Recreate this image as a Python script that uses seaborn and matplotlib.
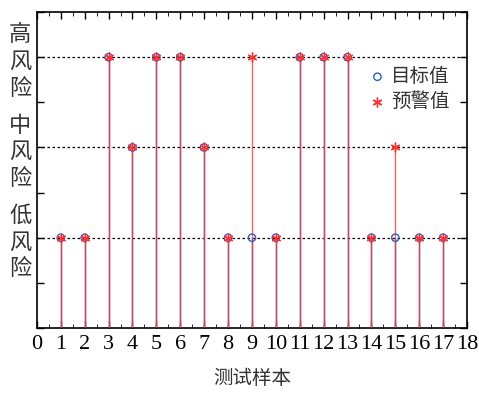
import numpy as np
import pandas as pd
import seaborn as sns
import matplotlib.pyplot as plt
from matplotlib.ticker import MultipleLocator

# Risk levels: 2 = low, 4 = medium, 6 = high
samples = list(range(1, 18))
target = [2, 2, 6, 4, 6, 6, 4, 2, 2, 2, 6, 6, 6, 2, 2, 2, 2]
warning = [2, 2, 6, 4, 6, 6, 4, 2, 6, 2, 6, 6, 6, 2, 4, 2, 2]
level_ticks = [2, 4, 6]
level_labels = ['低\n风\n险', '中\n风\n险', '高\n风\n险']
series_names = ['目标值', '预警值']

df = pd.concat([
    pd.DataFrame({'样本': samples, '风险': target, '类型': series_names[0]}),
    pd.DataFrame({'样本': samples, '风险': warning, '类型': series_names[1]}),
])

sns.set_style('ticks')
plt.rcParams['font.family'] = ['Liberation Serif', 'Noto Sans CJK SC']
plt.rcParams['text.color'] = 'black'
plt.rcParams['xtick.color'] = 'black'
plt.rcParams['ytick.color'] = 'black'
plt.rcParams['axes.edgecolor'] = 'black'

fig = plt.figure(figsize=(4.79, 3.94), dpi=100)
ax = fig.add_axes([0.077, 0.1675, 0.898, 0.802])

# dotted reference lines at each risk level
for lv in level_ticks:
    ax.axhline(lv, color='black', linestyle=(0, (2, 2)), linewidth=0.9, zorder=1)

# stems
ax.vlines(samples, 0, target, color='#4060b0', linewidth=1.0, zorder=2)
ax.vlines(samples, 0, warning, color='#ff3b3b', linewidth=1.0, alpha=0.8, zorder=3)

sns.scatterplot(data=df[df['类型'] == series_names[0]], x='样本', y='风险',
                marker='o', s=28, facecolor='none', edgecolor='#2a5fc0',
                linewidth=1.0, label=series_names[0], ax=ax, zorder=4)
sns.scatterplot(data=df[df['类型'] == series_names[1]], x='样本', y='风险',
                marker=(6, 2, 0), s=40, color='#ff3030',
                linewidth=1.0, label=series_names[1], ax=ax, zorder=5)

ax.set_xlim(0, 18)
ax.set_ylim(0, 7)
ax.set_xticks(range(0, 19))
ax.xaxis.set_minor_locator(MultipleLocator(0.5))
ax.set_yticks(range(0, 8))
ax.set_yticklabels(['' if i not in level_ticks else level_labels[level_ticks.index(i)]
                    for i in range(0, 8)],
                   fontsize=16, family=['Noto Sans CJK SC'], linespacing=1.2,
                   color='#333333')
ax.tick_params(axis='both', which='both', direction='in', top=True, right=True)
ax.tick_params(axis='both', which='major', length=5, width=1)
ax.tick_params(axis='x', which='minor', length=3)
ax.tick_params(axis='x', labelsize=16, pad=5)
ax.tick_params(axis='y', pad=4, length=5)
for sp in ax.spines.values():
    sp.set_linewidth(1.2)

ax.set_xlabel('测试样本', fontsize=14, family=['Noto Sans CJK SC'], labelpad=10,
              color='#333333')
ax.set_ylabel('')

leg = ax.legend(loc='upper right', bbox_to_anchor=(1.0, 0.885), frameon=False,
                prop={'family': 'Noto Sans CJK SC', 'size': 14},
                handletextpad=0.1, labelspacing=0.2, handlelength=1.2)
for t in leg.get_texts():
    t.set_color('#333333')

fig.savefig('out.png', dpi=100)
